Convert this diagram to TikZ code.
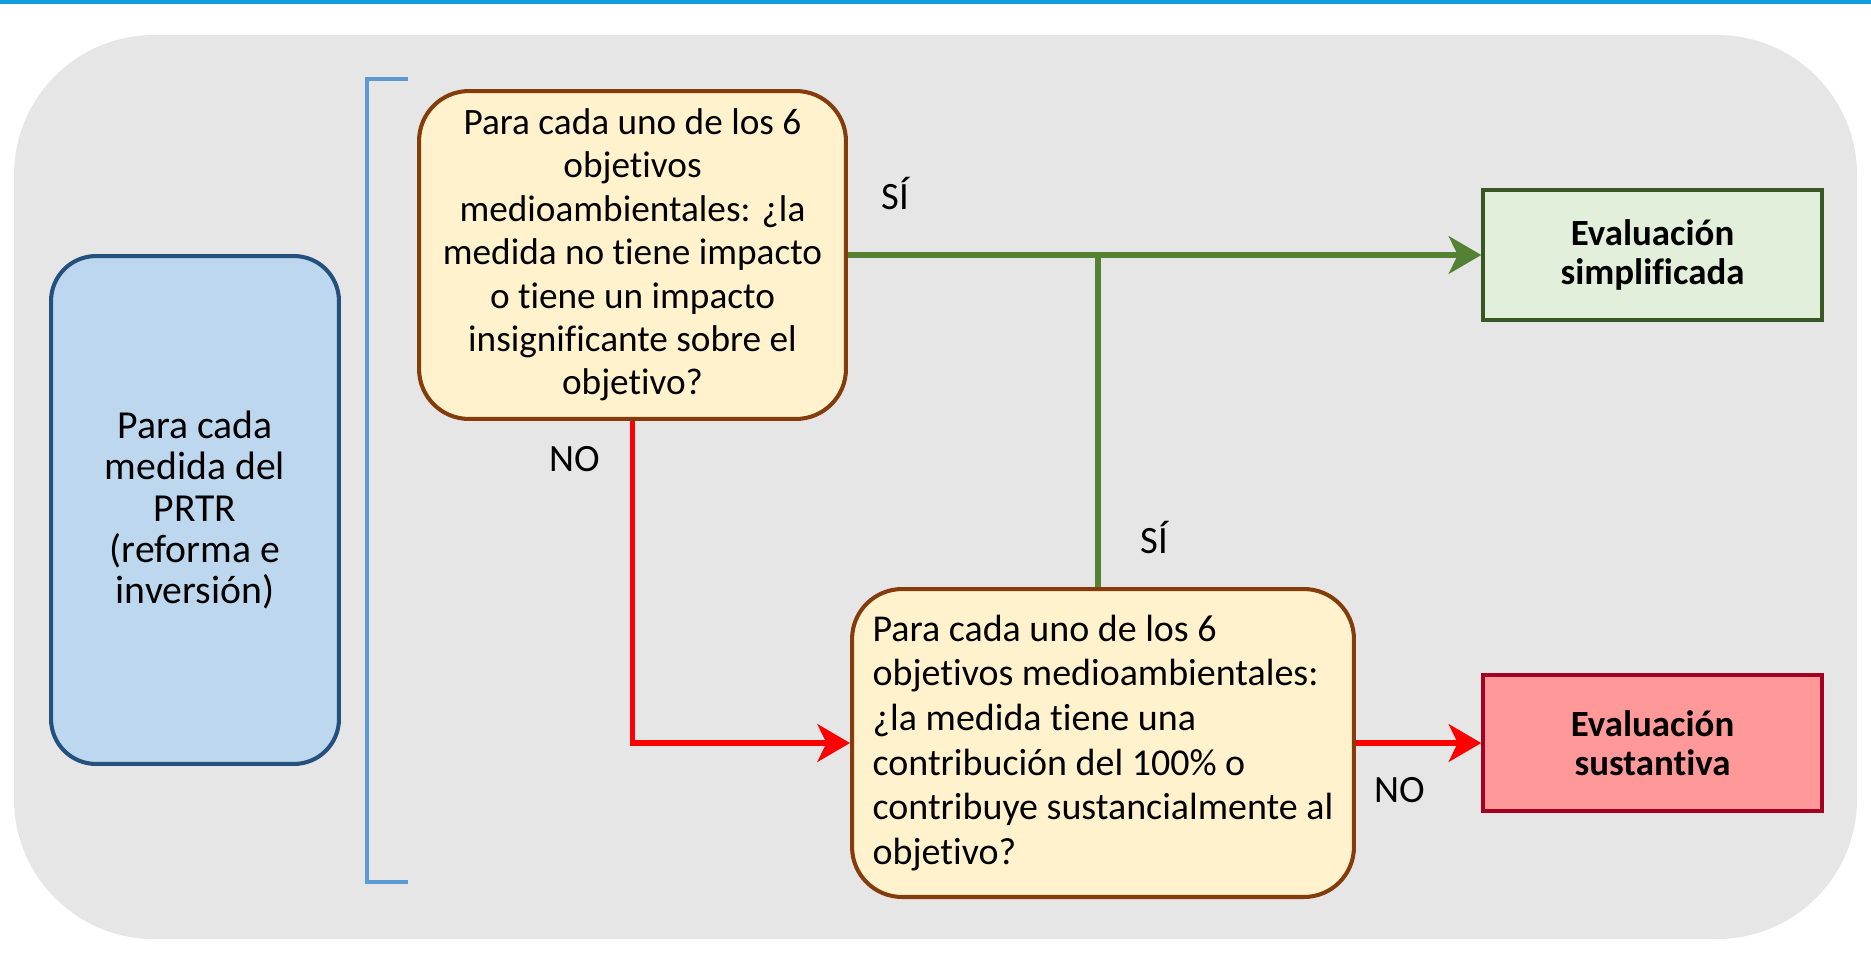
\documentclass[tikz,border=0pt]{standalone}
\usepackage{fontspec}
\setmainfont[Ligatures=NoCommon]{Carlito}
\usetikzlibrary{arrows.meta}

\definecolor{topblue}{HTML}{149BDF}
\definecolor{panel}{HTML}{E6E6E6}
\definecolor{bracketblue}{HTML}{5B9BD5}
\definecolor{medidafill}{HTML}{BDD7EE}
\definecolor{medidaborder}{HTML}{24507E}
\definecolor{qfill}{HTML}{FFF2CC}
\definecolor{qborder}{HTML}{843C0C}
\definecolor{simplefill}{HTML}{E2EFDA}
\definecolor{simpleborder}{HTML}{385723}
\definecolor{sustfill}{HTML}{FF9999}
\definecolor{sustborder}{HTML}{A50021}
\definecolor{yesgreen}{HTML}{548235}
\definecolor{nored}{HTML}{FF0000}

\begin{document}
\begin{tikzpicture}[x=0.02cm, y=-0.02cm,
	question/.style={draw=qborder, fill=qfill, line width=2.3pt, rounded corners=1cm},
	result/.style={line width=2pt, minimum width=6.78cm, align=center,
		font=\bfseries\fontsize{21}{22.5}\selectfont},
	answer/.style={font=\fontsize{22}{24}\selectfont},
	yes/.style={draw=yesgreen, line width=3.4pt},
	no/.style={draw=nored, line width=3.4pt},
	tip/.style={-{Stealth[length=6.5mm,width=7.5mm,inset=1.8mm]}}]
	\useasboundingbox (0,0) rectangle (1871,977);
	\fill[topblue] (0,0) rectangle (1871,4);
	\fill[panel, rounded corners=2.8cm] (14,35) rectangle (1857,939);
	\draw[bracketblue, line width=1.8pt] (408,79) -- (367,79) -- (367,882) -- (408,882);

	\node[draw=medidaborder, fill=medidafill, line width=2.3pt, rounded corners=0.9cm,
		minimum width=5.76cm, minimum height=10.16cm, align=center,
		font=\fontsize{22.6}{23.6}\selectfont] (medida) at (195,510)
		{Para cada\\medida del\\PRTR\\(reforma e\\inversión)};

	\node[question, minimum width=8.54cm, minimum height=6.56cm, align=center,
		font=\fontsize{21.2}{24.7}\selectfont] (impacto) at (632.5,255)
		{Para cada uno de los 6\\objetivos\\medioambientales: ¿la\\medida no tiene impacto\\o tiene un impacto\\insignificante sobre el\\objetivo?};
	\node[question, minimum width=10.04cm, minimum height=6.16cm, align=left,
		font=\fontsize{21.6}{25.4}\selectfont] (contribucion) at (1103,743)
		{Para cada uno de los 6\\objetivos medioambientales:\\¿la medida tiene una\\contribución del 100\% o\\contribuye sustancialmente al\\objetivo?};

	\node[result, draw=simpleborder, fill=simplefill, minimum height=2.6cm] (simplificada) at (1652.5,255)
		{Evaluación\\simplificada};
	\node[result, draw=sustborder, fill=sustfill, minimum height=2.72cm] (sustantiva) at (1652.5,743)
		{Evaluación\\sustantiva};

	\draw[yes, tip] (impacto.east) to (simplificada.west);
	\draw[yes] ([xshift=-0.1cm]contribucion.north) to ([xshift=-0.1cm]contribucion.north |- impacto.east);
	\draw[no, tip] (impacto.south) |- (contribucion.west);
	\draw[no, tip] (contribucion.east) to (sustantiva.west);

	\node[answer] (si1) at (895,193) {SÍ};
	\node[answer] (no1) at (575,459) {NO};
	\node[answer] (si2) at (1154,537) {SÍ};
	\node[answer] (no2) at (1400,790) {NO};
\end{tikzpicture}
\end{document}
